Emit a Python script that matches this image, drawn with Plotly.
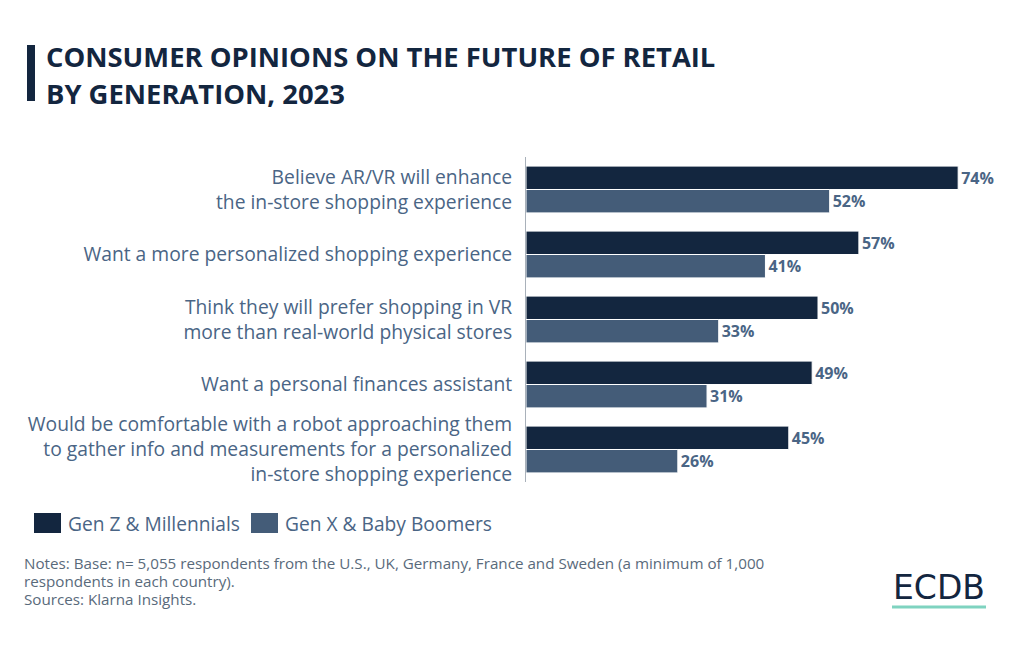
import plotly.graph_objects as go

categories = [
    "Believe AR/VR will enhance<br>the in-store shopping experience",
    "Want a more personalized shopping experience",
    "Think they will prefer shopping in VR<br>more than real-world physical stores",
    "Want a personal finances assistant",
    "Would be comfortable with a robot approaching them<br>to gather info and measurements for a personalized<br>in-store shopping experience",
]
gen_z_millennials = [74, 57, 50, 49, 45]
gen_x_boomers = [52, 41, 33, 31, 26]
series_names = ["Gen Z & Millennials", "Gen X & Baby Boomers"]
title_lines = ["CONSUMER OPINIONS ON THE FUTURE OF RETAIL", "BY GENERATION, 2023"]
note_lines = [
    "Notes: Base: n= 5,055 respondents from the U.S., UK, Germany, France and Sweden (a minimum of 1,000",
    "respondents in each country).",
    "Sources: Klarna Insights.",
]

DARK = "#13263f"
LIGHT = "#445c78"
LABEL = "#4a6585"

OFF = 8  # page body margin
W, H = 1024 - 2 * OFF, 646 - 2 * OFF
L, R, T, B = 526 - OFF, 1024 - OFF - 1000, 157 - OFF, 646 - OFF - 482
PW, PH = W - L - R, H - T - B

def px(x):
    return (x - OFF - L) / PW

def py(y):
    return (H - B - (y - OFF)) / PH

fig = go.Figure()
for name, vals, col in [(series_names[0], gen_z_millennials, DARK),
                        (series_names[1], gen_x_boomers, LIGHT)]:
    fig.add_trace(go.Bar(
        y=categories, x=vals, name=name, orientation="h",
        marker=dict(color=col, line=dict(color="#ffffff", width=1)),
        text=[f"{v}%" for v in vals], textposition="outside",
        textfont=dict(family="Open Sans", size=16, color=LABEL, weight="bold"),
        cliponaxis=False, showlegend=False,
    ))

fig.update_layout(
    width=W, height=H,
    margin=dict(l=L, r=R, t=T, b=B, autoexpand=False),
    barmode="group", bargap=0.28, bargroupgap=0.0,
    plot_bgcolor="white", paper_bgcolor="white",
    font=dict(family="Open Sans", color=LABEL),
    showlegend=False,
    xaxis=dict(range=[0, (1000 - 526) / 5.84], showgrid=False, zeroline=False,
               showticklabels=False, showline=False, fixedrange=True),
    yaxis=dict(autorange="reversed", showgrid=False, zeroline=False,
               showline=True, linecolor="#a9b1ba", linewidth=1,
               ticks="outside", ticklen=9, tickcolor="rgba(0,0,0,0)",
               tickfont=dict(size=19.3, color=LABEL), automargin=False),
)

# title bar + title
fig.add_shape(type="rect", xref="paper", yref="paper",
              x0=px(27), x1=px(35), y0=py(101), y1=py(45),
              fillcolor=DARK, line=dict(width=0))
for line, yc in zip(title_lines, [56.5, 93.5]):
    fig.add_annotation(xref="paper", yref="paper", x=px(45), y=py(yc),
                       xanchor="left", yanchor="middle", align="left", showarrow=False,
                       text=f"<b>{line}</b>", borderpad=0,
                       font=dict(family="Open Sans", size=27.4, color=DARK))

# legend (custom swatches)
for (x0, x1, tx), name, col in zip([(34, 61, 66), (251, 278, 283)], series_names, [DARK, LIGHT]):
    fig.add_shape(type="rect", xref="paper", yref="paper",
                  x0=px(x0), x1=px(x1), y0=py(533), y1=py(513),
                  fillcolor=col, line=dict(width=0))
    fig.add_annotation(xref="paper", yref="paper", x=px(tx), y=py(523),
                       xanchor="left", yanchor="middle", showarrow=False,
                       text=name, font=dict(family="Open Sans", size=19.2, color=LABEL))

# notes
for line, yc in zip(note_lines, [563, 581, 599]):
    fig.add_annotation(xref="paper", yref="paper", x=px(23), y=py(yc),
                       xanchor="left", yanchor="middle", align="left", showarrow=False,
                       text=line, borderpad=0,
                       font=dict(family="Open Sans", size=15.2, color="#596a7b"))
# logo
fig.add_annotation(xref="paper", yref="paper", x=px(939), y=py(587),
                   xanchor="center", yanchor="middle", showarrow=False,
                   text="ECDB", font=dict(family="DejaVu Sans", size=33, color=DARK))
fig.add_shape(type="line", xref="paper", yref="paper",
              x0=px(892), x1=px(986), y0=py(607), y1=py(607),
              line=dict(color="#7fd3c0", width=3))

fig.write_html("out.html")
